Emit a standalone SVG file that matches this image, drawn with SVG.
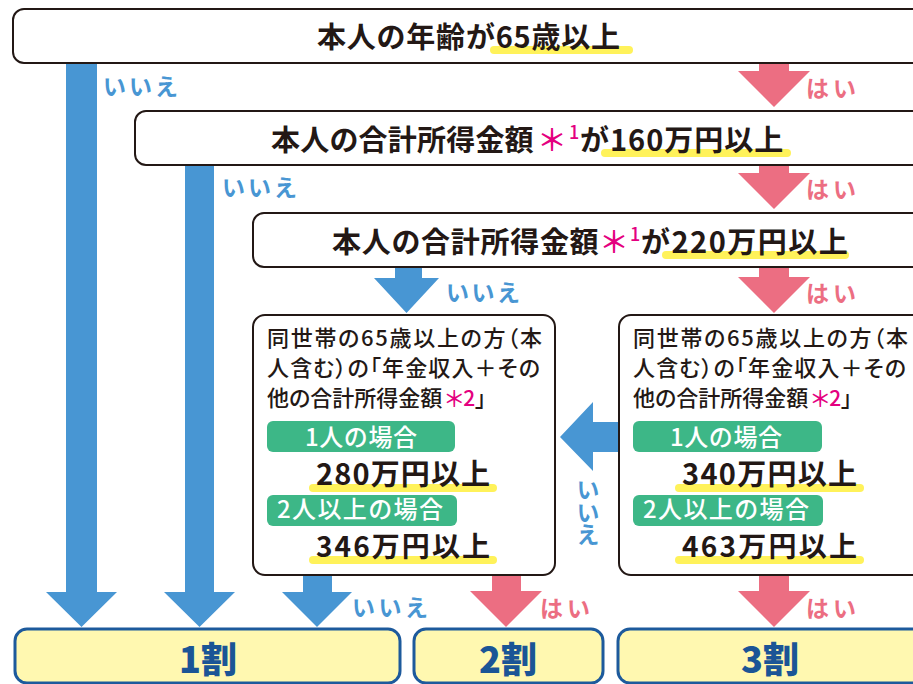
<svg xmlns="http://www.w3.org/2000/svg" width="913" height="684" viewBox="0 0 913 684">
<style>
.t{font-family:"Noto Sans CJK JP","Noto Sans",sans-serif;font-weight:700;fill:#231815}
.m{font-family:"Noto Sans CJK JP","Noto Sans",sans-serif;font-weight:500;fill:#231815;font-size:22px;font-feature-settings:"palt"}
.pk{font-family:"Noto Sans CJK JP",sans-serif;font-weight:500;fill:#e4007f}
.no{font-family:"Noto Sans CJK JP",sans-serif;font-weight:700;fill:#4896d3;font-size:23px}
.yes{font-family:"Noto Sans CJK JP",sans-serif;font-weight:700;fill:#ec6e82;font-size:23px}
.gl{font-family:"Noto Sans CJK JP",sans-serif;font-weight:500;fill:#ffffff;font-size:24px}
.wari{font-family:"Noto Sans CJK JP",sans-serif;font-weight:900;fill:#1b5596;font-size:36px;text-anchor:middle}
.box{fill:#ffffff;stroke:#231815;stroke-width:2}
.res{fill:#fff8b0;stroke:#1d5a9c;stroke-width:3}
.ul{stroke:#fff25a;stroke-width:8;stroke-linecap:round;fill:none}
.green{fill:#3db787}
.ba{fill:#4896d3}
.pa{fill:#ec6e82}
</style>

<g id="connectors">
  <polygon class="ba" points="66,62 97,62 97,592 117,592 81.5,627 46,592 66,592"/>
  <polygon class="ba" points="185,164 214,164 214,592 235,592 199.5,627 164,592 185,592"/>
  <polygon class="ba" points="395,267 422,267 422,278 439,278 406.5,313 374,278 395,278"/>
  <polygon class="ba" points="303,575 332,575 332,592 352,592 317,627 282,592 303,592"/>
  <polygon class="ba" points="619,422 593,422 593,402 560,437 593,471 593,452 619,452"/>
  <polygon class="pa" points="759,62 789,62 789,71 810,71 774,107 738,71 759,71"/>
  <polygon class="pa" points="759,164 789,164 789,173 810,173 774,209 738,173 759,173"/>
  <polygon class="pa" points="759,267 789,267 789,277 810,277 774,313 738,277 759,277"/>
  <polygon class="pa" points="759,575 789,575 789,591 810,591 774,627 738,591 759,591"/>
  <polygon class="pa" points="492,575 521,575 521,591 542,591 506,627 470,591 492,591"/>
  <text class="no" x="103" y="95" textLength="75">いいえ</text>
  <text class="yes" x="806" y="97" textLength="50">はい</text>
  <text class="no" x="222" y="196" textLength="75">いいえ</text>
  <text class="yes" x="806" y="198" textLength="50">はい</text>
  <text class="no" x="446" y="301" textLength="74">いいえ</text>
  <text class="yes" x="806" y="302" textLength="50">はい</text>
  <text class="no" x="352" y="616" textLength="76">いいえ</text>
  <text class="yes" x="540" y="617" textLength="50">はい</text>
  <text class="yes" x="806" y="617" textLength="50">はい</text>
  <text class="no" x="588" y="478" style="writing-mode:vertical-rl" font-size="22" textLength="68">いいえ</text>
</g>

<g id="q1">
  <rect class="box" x="13" y="9" width="940" height="54" rx="11"/>
  <line class="ul" x1="494" y1="50" x2="629" y2="50"/>
  <text class="t" x="317" y="48" font-size="29" textLength="303">本人の年齢が65歳以上</text>
</g>

<g id="q2">
  <rect class="box" x="135" y="111" width="820" height="54" rx="11"/>
  <line class="ul" x1="605" y1="153" x2="787" y2="153"/>
  <text class="t" y="151" font-size="29"><tspan x="271" letter-spacing="0.2">本人の合計所得金額</tspan><tspan class="pk" x="537" font-size="30">＊</tspan><tspan class="pk" x="569" dy="-12" font-size="18">1</tspan><tspan x="580" dy="12" letter-spacing="1">が160万円以上</tspan></text>
</g>

<g id="q3">
  <rect class="box" x="253" y="213" width="700" height="54" rx="11"/>
  <line class="ul" x1="666" y1="255" x2="845" y2="255"/>
  <text class="t" y="253" font-size="29"><tspan x="332" letter-spacing="0.7">本人の合計所得金額</tspan><tspan class="pk" x="599" font-size="30">＊</tspan><tspan class="pk" x="630" dy="-12" font-size="18">1</tspan><tspan x="641" dy="12" letter-spacing="1.5">が220万円以上</tspan></text>
</g>

<g id="q4-left">
  <rect class="box" x="253" y="315" width="302" height="260" rx="12"/>
  <text class="m"><tspan x="267" y="346" textLength="275">同世帯の65歳以上の方（本</tspan><tspan x="267" y="376" textLength="273">人含む）の「年金収入＋その</tspan><tspan x="267" y="406">他の合計所得金額</tspan><tspan class="pk" font-size="22" dx="3">＊</tspan><tspan class="pk" font-size="21">2</tspan><tspan>」</tspan></text>
  <rect class="green" x="267" y="421" width="188" height="31" rx="6"/>
  <text class="gl" x="305" y="446" textLength="112">1人の場合</text>
  <line class="ul" x1="313" y1="488" x2="493" y2="488"/>
  <text class="t" x="316" y="485" font-size="29" textLength="174">280万円以上</text>
  <rect class="green" x="267" y="495" width="190" height="31" rx="6"/>
  <text class="gl" x="277" y="518" textLength="166">2人以上の場合</text>
  <line class="ul" x1="313" y1="560" x2="493" y2="560"/>
  <text class="t" x="316" y="557" font-size="28" textLength="174">346万円以上</text>
</g>

<g id="q4-right">
  <rect class="box" x="619" y="315" width="330" height="260" rx="12"/>
  <text class="m"><tspan x="633" y="346" textLength="275">同世帯の65歳以上の方（本</tspan><tspan x="633" y="376" textLength="273">人含む）の「年金収入＋その</tspan><tspan x="633" y="406">他の合計所得金額</tspan><tspan class="pk" font-size="22" dx="3">＊</tspan><tspan class="pk" font-size="21">2</tspan><tspan>」</tspan></text>
  <rect class="green" x="633" y="421" width="189" height="31" rx="6"/>
  <text class="gl" x="670" y="446" textLength="112">1人の場合</text>
  <line class="ul" x1="679" y1="488" x2="860" y2="488"/>
  <text class="t" x="682" y="485" font-size="29" textLength="175">340万円以上</text>
  <rect class="green" x="633" y="495" width="190" height="31" rx="6"/>
  <text class="gl" x="643" y="518" textLength="166">2人以上の場合</text>
  <line class="ul" x1="679" y1="560" x2="860" y2="560"/>
  <text class="t" x="682" y="557" font-size="28" textLength="175">463万円以上</text>
</g>

<g id="r1">
  <rect class="res" x="15" y="629" width="385" height="54" rx="12"/>
  <text class="wari" x="208" y="673">1割</text>
</g>
<g id="r2">
  <rect class="res" x="414" y="629" width="189" height="54" rx="12"/>
  <text class="wari" x="508" y="673">2割</text>
</g>
<g id="r3">
  <rect class="res" x="618" y="629" width="330" height="54" rx="12"/>
  <text class="wari" x="770" y="673">3割</text>
</g>
</svg>
